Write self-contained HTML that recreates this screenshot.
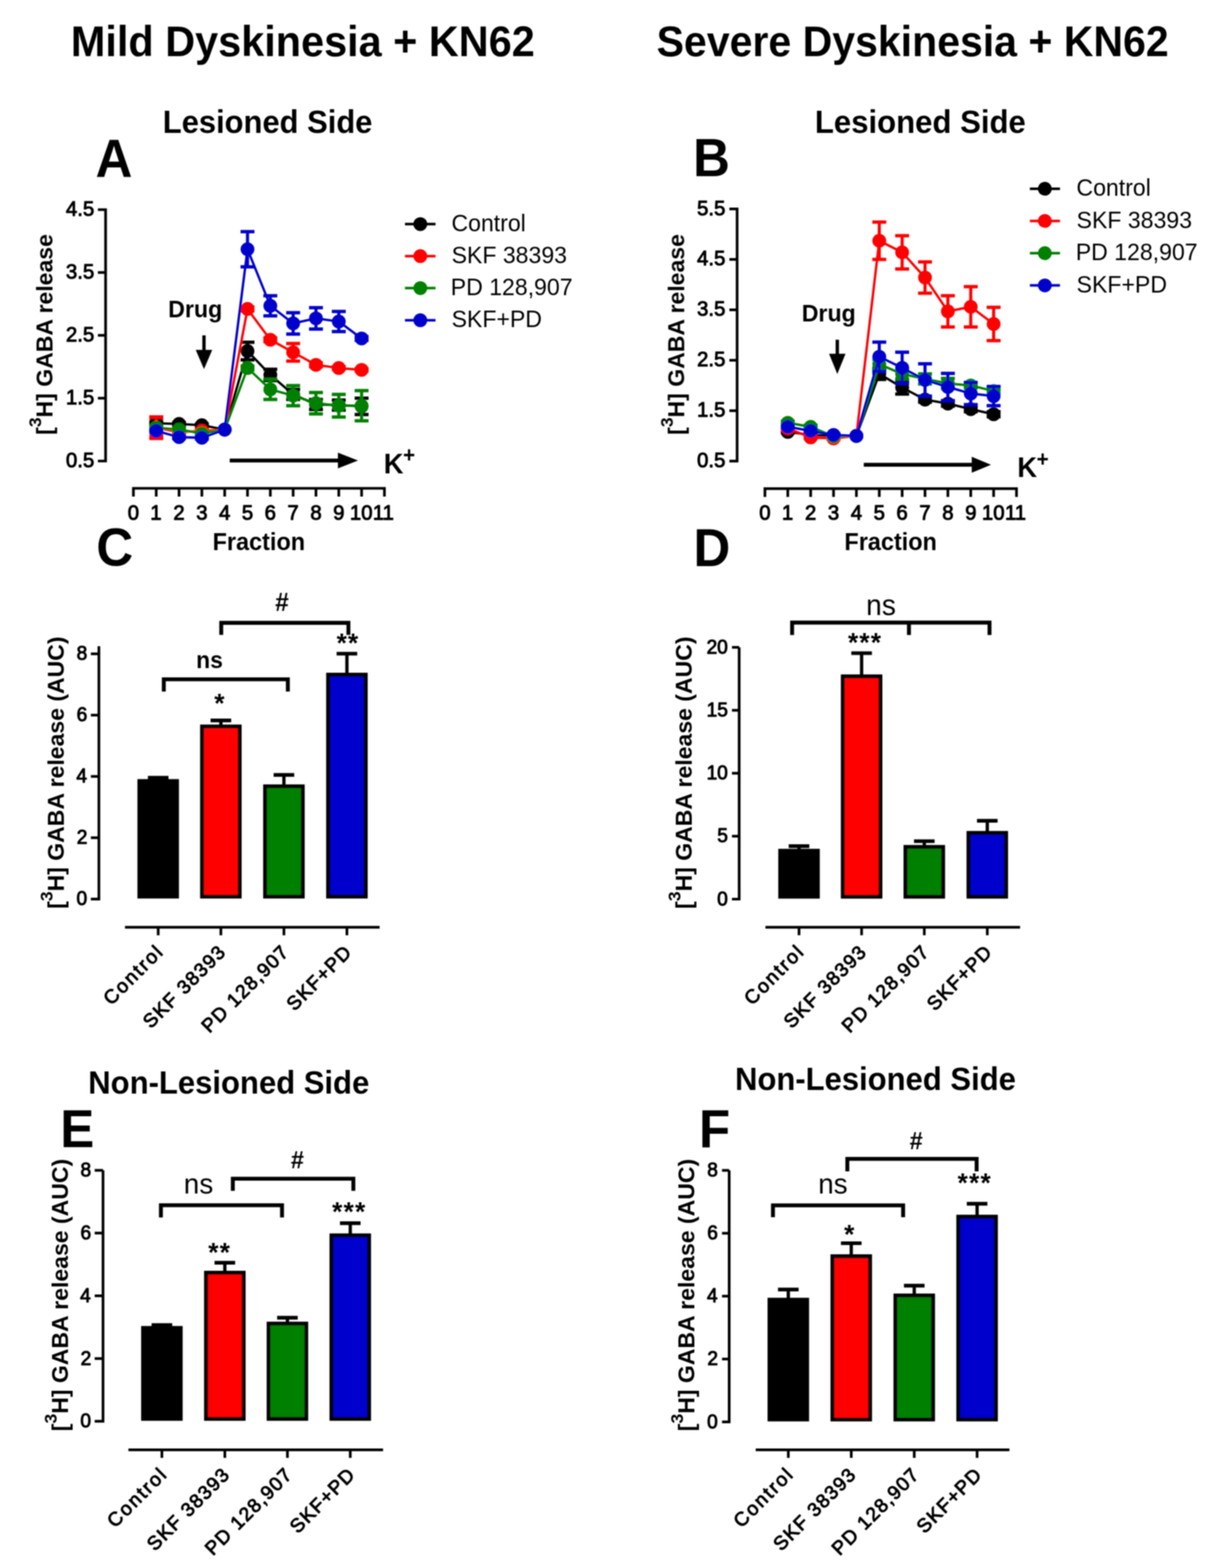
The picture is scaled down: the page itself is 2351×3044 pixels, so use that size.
<!DOCTYPE html>
<html><head><meta charset="utf-8"><title>Mild and Severe Dyskinesia + KN62</title>
<style>
html,body{margin:0;padding:0;background:#fff;}
body{width:2351px;height:3044px;overflow:hidden;}
svg{display:block;font-family:'Liberation Sans', Arial, Helvetica, sans-serif;}
</style></head><body>
<svg width="2351" height="3044" viewBox="0 0 2351 3044">
<defs><filter id="soft" x="0" y="0" width="100%" height="100%" filterUnits="userSpaceOnUse"><feGaussianBlur stdDeviation="0.8"/></filter></defs>
<rect width="100%" height="100%" fill="#fff"/>
<g filter="url(#soft)">
<text x="0" y="0" font-size="80.42" font-weight="700" text-anchor="start" fill="#000" transform="translate(137.62 109) scale(1 1.04)">Mild Dyskinesia + KN62</text>
<text x="0" y="0" font-size="79.68" font-weight="700" text-anchor="start" fill="#000" transform="translate(1274.7 109) scale(1 1.04)">Severe Dyskinesia + KN62</text>
<text x="0" y="0" font-size="60.05" font-weight="700" text-anchor="start" fill="#000" transform="translate(315.98 258) scale(1 1.04)">Lesioned Side</text>
<text x="0" y="0" font-size="60.42" font-weight="700" text-anchor="start" fill="#000" transform="translate(1581.96 258.2) scale(1 1.04)">Lesioned Side</text>
<text x="0" y="0" font-size="60.25" font-weight="700" text-anchor="start" fill="#000" transform="translate(171.37 2123) scale(1 1.04)">Non-Lesioned Side</text>
<text x="0" y="0" font-size="60.22" font-weight="700" text-anchor="start" fill="#000" transform="translate(1426.97 2115.5) scale(1 1.04)">Non-Lesioned Side</text>
<text x="0" y="0" font-size="99" font-weight="700" text-anchor="start" fill="#000" transform="translate(185.53 343) scale(1 1.04)">A</text>
<text x="0" y="0" font-size="99" font-weight="700" text-anchor="start" fill="#000" transform="translate(1345.38 342) scale(1 1.04)">B</text>
<text x="0" y="0" font-size="99" font-weight="700" text-anchor="start" fill="#000" transform="translate(186.94 1098) scale(1 1.04)">C</text>
<text x="0" y="0" font-size="99" font-weight="700" text-anchor="start" fill="#000" transform="translate(1346.28 1098.7) scale(1 1.04)">D</text>
<text x="0" y="0" font-size="99" font-weight="700" text-anchor="start" fill="#000" transform="translate(116.98 2226.7) scale(1 1.04)">E</text>
<text x="0" y="0" font-size="99" font-weight="700" text-anchor="start" fill="#000" transform="translate(1357.08 2226.7) scale(1 1.04)">F</text>
<path d="M190 407 H205 V895 H190" stroke="#000" stroke-width="5.2" fill="none" stroke-linejoin="miter" stroke-linecap="butt"/>
<line x1="190" y1="773" x2="205" y2="773" stroke="#000" stroke-width="5.2" stroke-linecap="butt"/>
<line x1="190" y1="651" x2="205" y2="651" stroke="#000" stroke-width="5.2" stroke-linecap="butt"/>
<line x1="190" y1="529" x2="205" y2="529" stroke="#000" stroke-width="5.2" stroke-linecap="butt"/>
<text x="0" y="0" font-size="39.5" font-weight="400" stroke="#000" stroke-width="1.6" stroke-linejoin="round" text-anchor="start" fill="#000" transform="translate(127.95 906.8) scale(1 1.04)">0.5</text>
<text x="0" y="0" font-size="39.5" font-weight="400" stroke="#000" stroke-width="1.6" stroke-linejoin="round" text-anchor="start" fill="#000" transform="translate(127.95 784.8) scale(1 1.04)">1.5</text>
<text x="0" y="0" font-size="39.5" font-weight="400" stroke="#000" stroke-width="1.6" stroke-linejoin="round" text-anchor="start" fill="#000" transform="translate(127.95 662.8) scale(1 1.04)">2.5</text>
<text x="0" y="0" font-size="39.5" font-weight="400" stroke="#000" stroke-width="1.6" stroke-linejoin="round" text-anchor="start" fill="#000" transform="translate(127.95 540.8) scale(1 1.04)">3.5</text>
<text x="0" y="0" font-size="39.5" font-weight="400" stroke="#000" stroke-width="1.6" stroke-linejoin="round" text-anchor="start" fill="#000" transform="translate(127.95 418.8) scale(1 1.04)">4.5</text>
<path d="M259 964 V948 H746.3 V964" stroke="#000" stroke-width="5.2" fill="none" stroke-linejoin="miter" stroke-linecap="butt"/>
<line x1="303.3" y1="948" x2="303.3" y2="964" stroke="#000" stroke-width="5.2" stroke-linecap="butt"/>
<line x1="347.6" y1="948" x2="347.6" y2="964" stroke="#000" stroke-width="5.2" stroke-linecap="butt"/>
<line x1="391.9" y1="948" x2="391.9" y2="964" stroke="#000" stroke-width="5.2" stroke-linecap="butt"/>
<line x1="436.2" y1="948" x2="436.2" y2="964" stroke="#000" stroke-width="5.2" stroke-linecap="butt"/>
<line x1="480.5" y1="948" x2="480.5" y2="964" stroke="#000" stroke-width="5.2" stroke-linecap="butt"/>
<line x1="524.8" y1="948" x2="524.8" y2="964" stroke="#000" stroke-width="5.2" stroke-linecap="butt"/>
<line x1="569.1" y1="948" x2="569.1" y2="964" stroke="#000" stroke-width="5.2" stroke-linecap="butt"/>
<line x1="613.4" y1="948" x2="613.4" y2="964" stroke="#000" stroke-width="5.2" stroke-linecap="butt"/>
<line x1="657.7" y1="948" x2="657.7" y2="964" stroke="#000" stroke-width="5.2" stroke-linecap="butt"/>
<line x1="702" y1="948" x2="702" y2="964" stroke="#000" stroke-width="5.2" stroke-linecap="butt"/>
<text x="0" y="0" font-size="39.5" font-weight="400" stroke="#000" stroke-width="1.6" stroke-linejoin="round" text-anchor="start" fill="#000" transform="translate(248.02 1008.7) scale(1 1.04)">0</text>
<text x="0" y="0" font-size="39.5" font-weight="400" stroke="#000" stroke-width="1.6" stroke-linejoin="round" text-anchor="start" fill="#000" transform="translate(291.78 1008.7) scale(1 1.04)">1</text>
<text x="0" y="0" font-size="39.5" font-weight="400" stroke="#000" stroke-width="1.6" stroke-linejoin="round" text-anchor="start" fill="#000" transform="translate(336.62 1008.7) scale(1 1.04)">2</text>
<text x="0" y="0" font-size="39.5" font-weight="400" stroke="#000" stroke-width="1.6" stroke-linejoin="round" text-anchor="start" fill="#000" transform="translate(381.03 1008.7) scale(1 1.04)">3</text>
<text x="0" y="0" font-size="39.5" font-weight="400" stroke="#000" stroke-width="1.6" stroke-linejoin="round" text-anchor="start" fill="#000" transform="translate(425.34 1008.7) scale(1 1.04)">4</text>
<text x="0" y="0" font-size="39.5" font-weight="400" stroke="#000" stroke-width="1.6" stroke-linejoin="round" text-anchor="start" fill="#000" transform="translate(469.55 1008.7) scale(1 1.04)">5</text>
<text x="0" y="0" font-size="39.5" font-weight="400" stroke="#000" stroke-width="1.6" stroke-linejoin="round" text-anchor="start" fill="#000" transform="translate(513.68 1008.7) scale(1 1.04)">6</text>
<text x="0" y="0" font-size="39.5" font-weight="400" stroke="#000" stroke-width="1.6" stroke-linejoin="round" text-anchor="start" fill="#000" transform="translate(558.1 1008.7) scale(1 1.04)">7</text>
<text x="0" y="0" font-size="39.5" font-weight="400" stroke="#000" stroke-width="1.6" stroke-linejoin="round" text-anchor="start" fill="#000" transform="translate(602.42 1008.7) scale(1 1.04)">8</text>
<text x="0" y="0" font-size="39.5" font-weight="400" stroke="#000" stroke-width="1.6" stroke-linejoin="round" text-anchor="start" fill="#000" transform="translate(646.73 1008.7) scale(1 1.04)">9</text>
<text x="0" y="0" font-size="39.5" font-weight="400" stroke="#000" stroke-width="1.6" stroke-linejoin="round" text-anchor="start" fill="#000" transform="translate(679.3 1008.7) scale(1 1.04)">10</text>
<text x="0" y="0" font-size="39.5" font-weight="400" stroke="#000" stroke-width="1.6" stroke-linejoin="round" text-anchor="start" fill="#000" transform="translate(723.79 1008.7) scale(1 1.04)">11</text>
<text x="0" y="0" font-size="45.5" font-weight="700" text-anchor="start" fill="#000" transform="translate(412.79 1068.1) scale(1 1.04)">Fraction</text>
<rect x="290.1" y="806.3" width="26.8" height="46.4" fill="#ff0000"/>
<polyline points="303.3,821.8 347.6,823.02 391.9,825.46 436.2,834 480.5,681.5 524.8,727.86 569.1,765.68 613.4,785.2 657.7,786.42 702,788.86" fill="none" stroke="#000000" stroke-width="4.6" stroke-linejoin="round"/>
<line x1="303.3" y1="819.36" x2="303.3" y2="824.24" stroke="#000000" stroke-width="6" stroke-linecap="butt"/>
<line x1="289.8" y1="819.36" x2="316.8" y2="819.36" stroke="#000000" stroke-width="6.5" stroke-linecap="butt"/>
<line x1="289.8" y1="824.24" x2="316.8" y2="824.24" stroke="#000000" stroke-width="6.5" stroke-linecap="butt"/>
<line x1="347.6" y1="820.58" x2="347.6" y2="825.46" stroke="#000000" stroke-width="6" stroke-linecap="butt"/>
<line x1="334.1" y1="820.58" x2="361.1" y2="820.58" stroke="#000000" stroke-width="6.5" stroke-linecap="butt"/>
<line x1="334.1" y1="825.46" x2="361.1" y2="825.46" stroke="#000000" stroke-width="6.5" stroke-linecap="butt"/>
<line x1="391.9" y1="823.02" x2="391.9" y2="827.9" stroke="#000000" stroke-width="6" stroke-linecap="butt"/>
<line x1="378.4" y1="823.02" x2="405.4" y2="823.02" stroke="#000000" stroke-width="6.5" stroke-linecap="butt"/>
<line x1="378.4" y1="827.9" x2="405.4" y2="827.9" stroke="#000000" stroke-width="6.5" stroke-linecap="butt"/>
<line x1="480.5" y1="664.42" x2="480.5" y2="698.58" stroke="#000000" stroke-width="6" stroke-linecap="butt"/>
<line x1="467" y1="664.42" x2="494" y2="664.42" stroke="#000000" stroke-width="6.5" stroke-linecap="butt"/>
<line x1="467" y1="698.58" x2="494" y2="698.58" stroke="#000000" stroke-width="6.5" stroke-linecap="butt"/>
<line x1="524.8" y1="716.88" x2="524.8" y2="738.84" stroke="#000000" stroke-width="6" stroke-linecap="butt"/>
<line x1="511.3" y1="716.88" x2="538.3" y2="716.88" stroke="#000000" stroke-width="6.5" stroke-linecap="butt"/>
<line x1="511.3" y1="738.84" x2="538.3" y2="738.84" stroke="#000000" stroke-width="6.5" stroke-linecap="butt"/>
<line x1="569.1" y1="755.92" x2="569.1" y2="775.44" stroke="#000000" stroke-width="6" stroke-linecap="butt"/>
<line x1="555.6" y1="755.92" x2="582.6" y2="755.92" stroke="#000000" stroke-width="6.5" stroke-linecap="butt"/>
<line x1="555.6" y1="775.44" x2="582.6" y2="775.44" stroke="#000000" stroke-width="6.5" stroke-linecap="butt"/>
<line x1="613.4" y1="775.44" x2="613.4" y2="794.96" stroke="#000000" stroke-width="6" stroke-linecap="butt"/>
<line x1="599.9" y1="775.44" x2="626.9" y2="775.44" stroke="#000000" stroke-width="6.5" stroke-linecap="butt"/>
<line x1="599.9" y1="794.96" x2="626.9" y2="794.96" stroke="#000000" stroke-width="6.5" stroke-linecap="butt"/>
<line x1="657.7" y1="776.66" x2="657.7" y2="796.18" stroke="#000000" stroke-width="6" stroke-linecap="butt"/>
<line x1="644.2" y1="776.66" x2="671.2" y2="776.66" stroke="#000000" stroke-width="6.5" stroke-linecap="butt"/>
<line x1="644.2" y1="796.18" x2="671.2" y2="796.18" stroke="#000000" stroke-width="6.5" stroke-linecap="butt"/>
<line x1="702" y1="773" x2="702" y2="804.72" stroke="#000000" stroke-width="6" stroke-linecap="butt"/>
<line x1="688.5" y1="773" x2="715.5" y2="773" stroke="#000000" stroke-width="6.5" stroke-linecap="butt"/>
<line x1="688.5" y1="804.72" x2="715.5" y2="804.72" stroke="#000000" stroke-width="6.5" stroke-linecap="butt"/>
<circle cx="303.3" cy="821.8" r="13.4" fill="#000000"/>
<circle cx="347.6" cy="823.02" r="13.4" fill="#000000"/>
<circle cx="391.9" cy="825.46" r="13.4" fill="#000000"/>
<circle cx="436.2" cy="834" r="13.4" fill="#000000"/>
<circle cx="480.5" cy="681.5" r="13.4" fill="#000000"/>
<circle cx="524.8" cy="727.86" r="13.4" fill="#000000"/>
<circle cx="569.1" cy="765.68" r="13.4" fill="#000000"/>
<circle cx="613.4" cy="785.2" r="13.4" fill="#000000"/>
<circle cx="657.7" cy="786.42" r="13.4" fill="#000000"/>
<circle cx="702" cy="788.86" r="13.4" fill="#000000"/>
<polyline points="303.3,830.34 347.6,838.88 391.9,836.44 436.2,834 480.5,599.76 524.8,659.54 569.1,683.94 613.4,708.34 657.7,714.44 702,718.1" fill="none" stroke="#ff0000" stroke-width="4.6" stroke-linejoin="round"/>
<line x1="303.3" y1="809.6" x2="303.3" y2="851.08" stroke="#ff0000" stroke-width="6" stroke-linecap="butt"/>
<line x1="289.8" y1="809.6" x2="316.8" y2="809.6" stroke="#ff0000" stroke-width="6.5" stroke-linecap="butt"/>
<line x1="289.8" y1="851.08" x2="316.8" y2="851.08" stroke="#ff0000" stroke-width="6.5" stroke-linecap="butt"/>
<line x1="347.6" y1="836.44" x2="347.6" y2="841.32" stroke="#ff0000" stroke-width="6" stroke-linecap="butt"/>
<line x1="334.1" y1="836.44" x2="361.1" y2="836.44" stroke="#ff0000" stroke-width="6.5" stroke-linecap="butt"/>
<line x1="334.1" y1="841.32" x2="361.1" y2="841.32" stroke="#ff0000" stroke-width="6.5" stroke-linecap="butt"/>
<line x1="391.9" y1="834" x2="391.9" y2="838.88" stroke="#ff0000" stroke-width="6" stroke-linecap="butt"/>
<line x1="378.4" y1="834" x2="405.4" y2="834" stroke="#ff0000" stroke-width="6.5" stroke-linecap="butt"/>
<line x1="378.4" y1="838.88" x2="405.4" y2="838.88" stroke="#ff0000" stroke-width="6.5" stroke-linecap="butt"/>
<line x1="480.5" y1="596.1" x2="480.5" y2="603.42" stroke="#ff0000" stroke-width="6" stroke-linecap="butt"/>
<line x1="467" y1="596.1" x2="494" y2="596.1" stroke="#ff0000" stroke-width="6.5" stroke-linecap="butt"/>
<line x1="467" y1="603.42" x2="494" y2="603.42" stroke="#ff0000" stroke-width="6.5" stroke-linecap="butt"/>
<line x1="524.8" y1="655.88" x2="524.8" y2="663.2" stroke="#ff0000" stroke-width="6" stroke-linecap="butt"/>
<line x1="511.3" y1="655.88" x2="538.3" y2="655.88" stroke="#ff0000" stroke-width="6.5" stroke-linecap="butt"/>
<line x1="511.3" y1="663.2" x2="538.3" y2="663.2" stroke="#ff0000" stroke-width="6.5" stroke-linecap="butt"/>
<line x1="569.1" y1="666.86" x2="569.1" y2="701.02" stroke="#ff0000" stroke-width="6" stroke-linecap="butt"/>
<line x1="555.6" y1="666.86" x2="582.6" y2="666.86" stroke="#ff0000" stroke-width="6.5" stroke-linecap="butt"/>
<line x1="555.6" y1="701.02" x2="582.6" y2="701.02" stroke="#ff0000" stroke-width="6.5" stroke-linecap="butt"/>
<line x1="613.4" y1="704.68" x2="613.4" y2="712" stroke="#ff0000" stroke-width="6" stroke-linecap="butt"/>
<line x1="599.9" y1="704.68" x2="626.9" y2="704.68" stroke="#ff0000" stroke-width="6.5" stroke-linecap="butt"/>
<line x1="599.9" y1="712" x2="626.9" y2="712" stroke="#ff0000" stroke-width="6.5" stroke-linecap="butt"/>
<line x1="657.7" y1="712" x2="657.7" y2="716.88" stroke="#ff0000" stroke-width="6" stroke-linecap="butt"/>
<line x1="644.2" y1="712" x2="671.2" y2="712" stroke="#ff0000" stroke-width="6.5" stroke-linecap="butt"/>
<line x1="644.2" y1="716.88" x2="671.2" y2="716.88" stroke="#ff0000" stroke-width="6.5" stroke-linecap="butt"/>
<line x1="702" y1="715.66" x2="702" y2="720.54" stroke="#ff0000" stroke-width="6" stroke-linecap="butt"/>
<line x1="688.5" y1="715.66" x2="715.5" y2="715.66" stroke="#ff0000" stroke-width="6.5" stroke-linecap="butt"/>
<line x1="688.5" y1="720.54" x2="715.5" y2="720.54" stroke="#ff0000" stroke-width="6.5" stroke-linecap="butt"/>
<circle cx="303.3" cy="830.34" r="13.4" fill="#ff0000"/>
<circle cx="347.6" cy="838.88" r="13.4" fill="#ff0000"/>
<circle cx="391.9" cy="836.44" r="13.4" fill="#ff0000"/>
<circle cx="436.2" cy="834" r="13.4" fill="#ff0000"/>
<circle cx="480.5" cy="599.76" r="13.4" fill="#ff0000"/>
<circle cx="524.8" cy="659.54" r="13.4" fill="#ff0000"/>
<circle cx="569.1" cy="683.94" r="13.4" fill="#ff0000"/>
<circle cx="613.4" cy="708.34" r="13.4" fill="#ff0000"/>
<circle cx="657.7" cy="714.44" r="13.4" fill="#ff0000"/>
<circle cx="702" cy="718.1" r="13.4" fill="#ff0000"/>
<polyline points="303.3,830.34 347.6,834 391.9,841.32 436.2,834 480.5,714.44 524.8,755.92 569.1,768.12 613.4,782.76 657.7,787.64 702,787.64" fill="none" stroke="#008000" stroke-width="4.6" stroke-linejoin="round"/>
<line x1="303.3" y1="826.68" x2="303.3" y2="834" stroke="#008000" stroke-width="6" stroke-linecap="butt"/>
<line x1="289.8" y1="826.68" x2="316.8" y2="826.68" stroke="#008000" stroke-width="6.5" stroke-linecap="butt"/>
<line x1="289.8" y1="834" x2="316.8" y2="834" stroke="#008000" stroke-width="6.5" stroke-linecap="butt"/>
<line x1="347.6" y1="831.56" x2="347.6" y2="836.44" stroke="#008000" stroke-width="6" stroke-linecap="butt"/>
<line x1="334.1" y1="831.56" x2="361.1" y2="831.56" stroke="#008000" stroke-width="6.5" stroke-linecap="butt"/>
<line x1="334.1" y1="836.44" x2="361.1" y2="836.44" stroke="#008000" stroke-width="6.5" stroke-linecap="butt"/>
<line x1="391.9" y1="838.88" x2="391.9" y2="843.76" stroke="#008000" stroke-width="6" stroke-linecap="butt"/>
<line x1="378.4" y1="838.88" x2="405.4" y2="838.88" stroke="#008000" stroke-width="6.5" stroke-linecap="butt"/>
<line x1="378.4" y1="843.76" x2="405.4" y2="843.76" stroke="#008000" stroke-width="6.5" stroke-linecap="butt"/>
<line x1="480.5" y1="710.78" x2="480.5" y2="718.1" stroke="#008000" stroke-width="6" stroke-linecap="butt"/>
<line x1="467" y1="710.78" x2="494" y2="710.78" stroke="#008000" stroke-width="6.5" stroke-linecap="butt"/>
<line x1="467" y1="718.1" x2="494" y2="718.1" stroke="#008000" stroke-width="6.5" stroke-linecap="butt"/>
<line x1="524.8" y1="736.4" x2="524.8" y2="775.44" stroke="#008000" stroke-width="6" stroke-linecap="butt"/>
<line x1="511.3" y1="736.4" x2="538.3" y2="736.4" stroke="#008000" stroke-width="6.5" stroke-linecap="butt"/>
<line x1="511.3" y1="775.44" x2="538.3" y2="775.44" stroke="#008000" stroke-width="6.5" stroke-linecap="butt"/>
<line x1="569.1" y1="748.6" x2="569.1" y2="787.64" stroke="#008000" stroke-width="6" stroke-linecap="butt"/>
<line x1="555.6" y1="748.6" x2="582.6" y2="748.6" stroke="#008000" stroke-width="6.5" stroke-linecap="butt"/>
<line x1="555.6" y1="787.64" x2="582.6" y2="787.64" stroke="#008000" stroke-width="6.5" stroke-linecap="butt"/>
<line x1="613.4" y1="762.02" x2="613.4" y2="803.5" stroke="#008000" stroke-width="6" stroke-linecap="butt"/>
<line x1="599.9" y1="762.02" x2="626.9" y2="762.02" stroke="#008000" stroke-width="6.5" stroke-linecap="butt"/>
<line x1="599.9" y1="803.5" x2="626.9" y2="803.5" stroke="#008000" stroke-width="6.5" stroke-linecap="butt"/>
<line x1="657.7" y1="765.68" x2="657.7" y2="809.6" stroke="#008000" stroke-width="6" stroke-linecap="butt"/>
<line x1="644.2" y1="765.68" x2="671.2" y2="765.68" stroke="#008000" stroke-width="6.5" stroke-linecap="butt"/>
<line x1="644.2" y1="809.6" x2="671.2" y2="809.6" stroke="#008000" stroke-width="6.5" stroke-linecap="butt"/>
<line x1="702" y1="758.36" x2="702" y2="816.92" stroke="#008000" stroke-width="6" stroke-linecap="butt"/>
<line x1="688.5" y1="758.36" x2="715.5" y2="758.36" stroke="#008000" stroke-width="6.5" stroke-linecap="butt"/>
<line x1="688.5" y1="816.92" x2="715.5" y2="816.92" stroke="#008000" stroke-width="6.5" stroke-linecap="butt"/>
<circle cx="303.3" cy="830.34" r="13.4" fill="#008000"/>
<circle cx="347.6" cy="834" r="13.4" fill="#008000"/>
<circle cx="391.9" cy="841.32" r="13.4" fill="#008000"/>
<circle cx="436.2" cy="834" r="13.4" fill="#008000"/>
<circle cx="480.5" cy="714.44" r="13.4" fill="#008000"/>
<circle cx="524.8" cy="755.92" r="13.4" fill="#008000"/>
<circle cx="569.1" cy="768.12" r="13.4" fill="#008000"/>
<circle cx="613.4" cy="782.76" r="13.4" fill="#008000"/>
<circle cx="657.7" cy="787.64" r="13.4" fill="#008000"/>
<circle cx="702" cy="787.64" r="13.4" fill="#008000"/>
<polyline points="303.3,836.44 347.6,848.64 391.9,849.86 436.2,834 480.5,483.86 524.8,593.66 569.1,627.82 613.4,618.06 657.7,624.16 702,657.1" fill="none" stroke="#0000cc" stroke-width="4.6" stroke-linejoin="round"/>
<line x1="303.3" y1="834" x2="303.3" y2="838.88" stroke="#0000cc" stroke-width="6" stroke-linecap="butt"/>
<line x1="289.8" y1="834" x2="316.8" y2="834" stroke="#0000cc" stroke-width="6.5" stroke-linecap="butt"/>
<line x1="289.8" y1="838.88" x2="316.8" y2="838.88" stroke="#0000cc" stroke-width="6.5" stroke-linecap="butt"/>
<line x1="347.6" y1="846.2" x2="347.6" y2="851.08" stroke="#0000cc" stroke-width="6" stroke-linecap="butt"/>
<line x1="334.1" y1="846.2" x2="361.1" y2="846.2" stroke="#0000cc" stroke-width="6.5" stroke-linecap="butt"/>
<line x1="334.1" y1="851.08" x2="361.1" y2="851.08" stroke="#0000cc" stroke-width="6.5" stroke-linecap="butt"/>
<line x1="391.9" y1="847.42" x2="391.9" y2="852.3" stroke="#0000cc" stroke-width="6" stroke-linecap="butt"/>
<line x1="378.4" y1="847.42" x2="405.4" y2="847.42" stroke="#0000cc" stroke-width="6.5" stroke-linecap="butt"/>
<line x1="378.4" y1="852.3" x2="405.4" y2="852.3" stroke="#0000cc" stroke-width="6.5" stroke-linecap="butt"/>
<line x1="480.5" y1="449.7" x2="480.5" y2="518.02" stroke="#0000cc" stroke-width="6" stroke-linecap="butt"/>
<line x1="467" y1="449.7" x2="494" y2="449.7" stroke="#0000cc" stroke-width="6.5" stroke-linecap="butt"/>
<line x1="467" y1="518.02" x2="494" y2="518.02" stroke="#0000cc" stroke-width="6.5" stroke-linecap="butt"/>
<line x1="524.8" y1="574.14" x2="524.8" y2="613.18" stroke="#0000cc" stroke-width="6" stroke-linecap="butt"/>
<line x1="511.3" y1="574.14" x2="538.3" y2="574.14" stroke="#0000cc" stroke-width="6.5" stroke-linecap="butt"/>
<line x1="511.3" y1="613.18" x2="538.3" y2="613.18" stroke="#0000cc" stroke-width="6.5" stroke-linecap="butt"/>
<line x1="569.1" y1="607.08" x2="569.1" y2="648.56" stroke="#0000cc" stroke-width="6" stroke-linecap="butt"/>
<line x1="555.6" y1="607.08" x2="582.6" y2="607.08" stroke="#0000cc" stroke-width="6.5" stroke-linecap="butt"/>
<line x1="555.6" y1="648.56" x2="582.6" y2="648.56" stroke="#0000cc" stroke-width="6.5" stroke-linecap="butt"/>
<line x1="613.4" y1="597.32" x2="613.4" y2="638.8" stroke="#0000cc" stroke-width="6" stroke-linecap="butt"/>
<line x1="599.9" y1="597.32" x2="626.9" y2="597.32" stroke="#0000cc" stroke-width="6.5" stroke-linecap="butt"/>
<line x1="599.9" y1="638.8" x2="626.9" y2="638.8" stroke="#0000cc" stroke-width="6.5" stroke-linecap="butt"/>
<line x1="657.7" y1="604.64" x2="657.7" y2="643.68" stroke="#0000cc" stroke-width="6" stroke-linecap="butt"/>
<line x1="644.2" y1="604.64" x2="671.2" y2="604.64" stroke="#0000cc" stroke-width="6.5" stroke-linecap="butt"/>
<line x1="644.2" y1="643.68" x2="671.2" y2="643.68" stroke="#0000cc" stroke-width="6.5" stroke-linecap="butt"/>
<line x1="702" y1="653.44" x2="702" y2="660.76" stroke="#0000cc" stroke-width="6" stroke-linecap="butt"/>
<line x1="688.5" y1="653.44" x2="715.5" y2="653.44" stroke="#0000cc" stroke-width="6.5" stroke-linecap="butt"/>
<line x1="688.5" y1="660.76" x2="715.5" y2="660.76" stroke="#0000cc" stroke-width="6.5" stroke-linecap="butt"/>
<circle cx="303.3" cy="836.44" r="13.4" fill="#0000cc"/>
<circle cx="347.6" cy="848.64" r="13.4" fill="#0000cc"/>
<circle cx="391.9" cy="849.86" r="13.4" fill="#0000cc"/>
<circle cx="436.2" cy="834" r="13.4" fill="#0000cc"/>
<circle cx="480.5" cy="483.86" r="13.4" fill="#0000cc"/>
<circle cx="524.8" cy="593.66" r="13.4" fill="#0000cc"/>
<circle cx="569.1" cy="627.82" r="13.4" fill="#0000cc"/>
<circle cx="613.4" cy="618.06" r="13.4" fill="#0000cc"/>
<circle cx="657.7" cy="624.16" r="13.4" fill="#0000cc"/>
<circle cx="702" cy="657.1" r="13.4" fill="#0000cc"/>
<line x1="786.2" y1="435.1" x2="845.5" y2="435.1" stroke="#000000" stroke-width="5" stroke-linecap="butt"/>
<circle cx="816" cy="435.1" r="13.4" fill="#000000"/>
<text x="0" y="0" font-size="44.8" font-weight="400" text-anchor="start" fill="#000" transform="translate(876.43 448.6) scale(1 1.04)">Control</text>
<line x1="786.2" y1="497.2" x2="845.5" y2="497.2" stroke="#ff0000" stroke-width="5" stroke-linecap="butt"/>
<circle cx="816" cy="497.2" r="13.4" fill="#ff0000"/>
<text x="0" y="0" font-size="44.8" font-weight="400" text-anchor="start" fill="#000" transform="translate(876.67 510.7) scale(1 1.04)">SKF 38393</text>
<line x1="786.2" y1="559.3" x2="845.5" y2="559.3" stroke="#008000" stroke-width="5" stroke-linecap="butt"/>
<circle cx="816" cy="559.3" r="13.4" fill="#008000"/>
<text x="0" y="0" font-size="44.8" font-weight="400" text-anchor="start" fill="#000" transform="translate(875.03 572.8) scale(1 1.04)">PD 128,907</text>
<line x1="786.2" y1="621.7" x2="845.5" y2="621.7" stroke="#0000cc" stroke-width="5" stroke-linecap="butt"/>
<circle cx="816" cy="621.7" r="13.4" fill="#0000cc"/>
<text x="0" y="0" font-size="44.8" font-weight="400" text-anchor="start" fill="#000" transform="translate(876.67 635.2) scale(1 1.04)">SKF+PD</text>
<text x="0" y="0" font-size="45" font-weight="700" text-anchor="start" fill="#000" transform="translate(326.49 615.8) scale(1 1.04)">Drug</text>
<line x1="396" y1="651" x2="396" y2="680.3" stroke="#000" stroke-width="6.5" stroke-linecap="butt"/>
<polygon points="380,679.3 412,679.3 396,716.4" fill="#000"/>
<line x1="446" y1="894" x2="657" y2="894" stroke="#000" stroke-width="7.5" stroke-linecap="butt"/>
<polygon points="656,878.7 656,909.3 695,894" fill="#000"/>
<text x="0" y="0" font-size="53" font-weight="700" text-anchor="start" fill="#000" transform="translate(745.05 918.8) scale(1 1.04)">K</text>
<text x="0" y="0" font-size="40" font-weight="700" text-anchor="start" fill="#000" transform="translate(782.39 897.2) scale(1 1.04)">+</text>
<text transform="translate(101.9 648) rotate(-90) scale(1 1)" font-size="44.7" font-weight="700" x="-196.25" y="0">[<tspan font-size="34" dy="-22.4">3</tspan><tspan dy="22.4">H] GABA release</tspan></text>
<path d="M1416 405.7 H1431 V895.2 H1416" stroke="#000" stroke-width="5.2" fill="none" stroke-linejoin="miter" stroke-linecap="butt"/>
<line x1="1416" y1="797.3" x2="1431" y2="797.3" stroke="#000" stroke-width="5.2" stroke-linecap="butt"/>
<line x1="1416" y1="699.4" x2="1431" y2="699.4" stroke="#000" stroke-width="5.2" stroke-linecap="butt"/>
<line x1="1416" y1="601.5" x2="1431" y2="601.5" stroke="#000" stroke-width="5.2" stroke-linecap="butt"/>
<line x1="1416" y1="503.6" x2="1431" y2="503.6" stroke="#000" stroke-width="5.2" stroke-linecap="butt"/>
<text x="0" y="0" font-size="39.5" font-weight="400" stroke="#000" stroke-width="1.6" stroke-linejoin="round" text-anchor="start" fill="#000" transform="translate(1353.35 907) scale(1 1.04)">0.5</text>
<text x="0" y="0" font-size="39.5" font-weight="400" stroke="#000" stroke-width="1.6" stroke-linejoin="round" text-anchor="start" fill="#000" transform="translate(1353.35 809.1) scale(1 1.04)">1.5</text>
<text x="0" y="0" font-size="39.5" font-weight="400" stroke="#000" stroke-width="1.6" stroke-linejoin="round" text-anchor="start" fill="#000" transform="translate(1353.35 711.2) scale(1 1.04)">2.5</text>
<text x="0" y="0" font-size="39.5" font-weight="400" stroke="#000" stroke-width="1.6" stroke-linejoin="round" text-anchor="start" fill="#000" transform="translate(1353.35 613.3) scale(1 1.04)">3.5</text>
<text x="0" y="0" font-size="39.5" font-weight="400" stroke="#000" stroke-width="1.6" stroke-linejoin="round" text-anchor="start" fill="#000" transform="translate(1353.35 515.4) scale(1 1.04)">4.5</text>
<text x="0" y="0" font-size="39.5" font-weight="400" stroke="#000" stroke-width="1.6" stroke-linejoin="round" text-anchor="start" fill="#000" transform="translate(1353.35 417.5) scale(1 1.04)">5.5</text>
<path d="M1485 964.7 V948.7 H1973.4 V964.7" stroke="#000" stroke-width="5.2" fill="none" stroke-linejoin="miter" stroke-linecap="butt"/>
<line x1="1529.4" y1="948.7" x2="1529.4" y2="964.7" stroke="#000" stroke-width="5.2" stroke-linecap="butt"/>
<line x1="1573.8" y1="948.7" x2="1573.8" y2="964.7" stroke="#000" stroke-width="5.2" stroke-linecap="butt"/>
<line x1="1618.2" y1="948.7" x2="1618.2" y2="964.7" stroke="#000" stroke-width="5.2" stroke-linecap="butt"/>
<line x1="1662.6" y1="948.7" x2="1662.6" y2="964.7" stroke="#000" stroke-width="5.2" stroke-linecap="butt"/>
<line x1="1707" y1="948.7" x2="1707" y2="964.7" stroke="#000" stroke-width="5.2" stroke-linecap="butt"/>
<line x1="1751.4" y1="948.7" x2="1751.4" y2="964.7" stroke="#000" stroke-width="5.2" stroke-linecap="butt"/>
<line x1="1795.8" y1="948.7" x2="1795.8" y2="964.7" stroke="#000" stroke-width="5.2" stroke-linecap="butt"/>
<line x1="1840.2" y1="948.7" x2="1840.2" y2="964.7" stroke="#000" stroke-width="5.2" stroke-linecap="butt"/>
<line x1="1884.6" y1="948.7" x2="1884.6" y2="964.7" stroke="#000" stroke-width="5.2" stroke-linecap="butt"/>
<line x1="1929" y1="948.7" x2="1929" y2="964.7" stroke="#000" stroke-width="5.2" stroke-linecap="butt"/>
<text x="0" y="0" font-size="39.5" font-weight="400" stroke="#000" stroke-width="1.6" stroke-linejoin="round" text-anchor="start" fill="#000" transform="translate(1474.02 1008.8) scale(1 1.04)">0</text>
<text x="0" y="0" font-size="39.5" font-weight="400" stroke="#000" stroke-width="1.6" stroke-linejoin="round" text-anchor="start" fill="#000" transform="translate(1517.88 1008.8) scale(1 1.04)">1</text>
<text x="0" y="0" font-size="39.5" font-weight="400" stroke="#000" stroke-width="1.6" stroke-linejoin="round" text-anchor="start" fill="#000" transform="translate(1562.82 1008.8) scale(1 1.04)">2</text>
<text x="0" y="0" font-size="39.5" font-weight="400" stroke="#000" stroke-width="1.6" stroke-linejoin="round" text-anchor="start" fill="#000" transform="translate(1607.33 1008.8) scale(1 1.04)">3</text>
<text x="0" y="0" font-size="39.5" font-weight="400" stroke="#000" stroke-width="1.6" stroke-linejoin="round" text-anchor="start" fill="#000" transform="translate(1651.74 1008.8) scale(1 1.04)">4</text>
<text x="0" y="0" font-size="39.5" font-weight="400" stroke="#000" stroke-width="1.6" stroke-linejoin="round" text-anchor="start" fill="#000" transform="translate(1696.05 1008.8) scale(1 1.04)">5</text>
<text x="0" y="0" font-size="39.5" font-weight="400" stroke="#000" stroke-width="1.6" stroke-linejoin="round" text-anchor="start" fill="#000" transform="translate(1740.28 1008.8) scale(1 1.04)">6</text>
<text x="0" y="0" font-size="39.5" font-weight="400" stroke="#000" stroke-width="1.6" stroke-linejoin="round" text-anchor="start" fill="#000" transform="translate(1784.8 1008.8) scale(1 1.04)">7</text>
<text x="0" y="0" font-size="39.5" font-weight="400" stroke="#000" stroke-width="1.6" stroke-linejoin="round" text-anchor="start" fill="#000" transform="translate(1829.22 1008.8) scale(1 1.04)">8</text>
<text x="0" y="0" font-size="39.5" font-weight="400" stroke="#000" stroke-width="1.6" stroke-linejoin="round" text-anchor="start" fill="#000" transform="translate(1873.63 1008.8) scale(1 1.04)">9</text>
<text x="0" y="0" font-size="39.5" font-weight="400" stroke="#000" stroke-width="1.6" stroke-linejoin="round" text-anchor="start" fill="#000" transform="translate(1906.3 1008.8) scale(1 1.04)">10</text>
<text x="0" y="0" font-size="39.5" font-weight="400" stroke="#000" stroke-width="1.6" stroke-linejoin="round" text-anchor="start" fill="#000" transform="translate(1950.89 1008.8) scale(1 1.04)">11</text>
<text x="0" y="0" font-size="45.5" font-weight="700" text-anchor="start" fill="#000" transform="translate(1639.34 1067.8) scale(1 1.04)">Fraction</text>
<polyline points="1529.4,838.42 1573.8,844.29 1618.2,846.25 1662.6,846.25 1707,725.83 1751.4,752.27 1795.8,775.76 1840.2,783.59 1884.6,794.36 1929,804.15" fill="none" stroke="#000000" stroke-width="4.6" stroke-linejoin="round"/>
<line x1="1529.4" y1="836.46" x2="1529.4" y2="840.38" stroke="#000000" stroke-width="6" stroke-linecap="butt"/>
<line x1="1515.9" y1="836.46" x2="1542.9" y2="836.46" stroke="#000000" stroke-width="6.5" stroke-linecap="butt"/>
<line x1="1515.9" y1="840.38" x2="1542.9" y2="840.38" stroke="#000000" stroke-width="6.5" stroke-linecap="butt"/>
<line x1="1573.8" y1="842.33" x2="1573.8" y2="846.25" stroke="#000000" stroke-width="6" stroke-linecap="butt"/>
<line x1="1560.3" y1="842.33" x2="1587.3" y2="842.33" stroke="#000000" stroke-width="6.5" stroke-linecap="butt"/>
<line x1="1560.3" y1="846.25" x2="1587.3" y2="846.25" stroke="#000000" stroke-width="6.5" stroke-linecap="butt"/>
<line x1="1618.2" y1="844.29" x2="1618.2" y2="848.21" stroke="#000000" stroke-width="6" stroke-linecap="butt"/>
<line x1="1604.7" y1="844.29" x2="1631.7" y2="844.29" stroke="#000000" stroke-width="6.5" stroke-linecap="butt"/>
<line x1="1604.7" y1="848.21" x2="1631.7" y2="848.21" stroke="#000000" stroke-width="6.5" stroke-linecap="butt"/>
<line x1="1707" y1="715.06" x2="1707" y2="736.6" stroke="#000000" stroke-width="6" stroke-linecap="butt"/>
<line x1="1693.5" y1="715.06" x2="1720.5" y2="715.06" stroke="#000000" stroke-width="6.5" stroke-linecap="butt"/>
<line x1="1693.5" y1="736.6" x2="1720.5" y2="736.6" stroke="#000000" stroke-width="6.5" stroke-linecap="butt"/>
<line x1="1751.4" y1="739.54" x2="1751.4" y2="764.99" stroke="#000000" stroke-width="6" stroke-linecap="butt"/>
<line x1="1737.9" y1="739.54" x2="1764.9" y2="739.54" stroke="#000000" stroke-width="6.5" stroke-linecap="butt"/>
<line x1="1737.9" y1="764.99" x2="1764.9" y2="764.99" stroke="#000000" stroke-width="6.5" stroke-linecap="butt"/>
<line x1="1795.8" y1="770.87" x2="1795.8" y2="780.66" stroke="#000000" stroke-width="6" stroke-linecap="butt"/>
<line x1="1782.3" y1="770.87" x2="1809.3" y2="770.87" stroke="#000000" stroke-width="6.5" stroke-linecap="butt"/>
<line x1="1782.3" y1="780.66" x2="1809.3" y2="780.66" stroke="#000000" stroke-width="6.5" stroke-linecap="butt"/>
<line x1="1840.2" y1="778.7" x2="1840.2" y2="788.49" stroke="#000000" stroke-width="6" stroke-linecap="butt"/>
<line x1="1826.7" y1="778.7" x2="1853.7" y2="778.7" stroke="#000000" stroke-width="6.5" stroke-linecap="butt"/>
<line x1="1826.7" y1="788.49" x2="1853.7" y2="788.49" stroke="#000000" stroke-width="6.5" stroke-linecap="butt"/>
<line x1="1884.6" y1="789.47" x2="1884.6" y2="799.26" stroke="#000000" stroke-width="6" stroke-linecap="butt"/>
<line x1="1871.1" y1="789.47" x2="1898.1" y2="789.47" stroke="#000000" stroke-width="6.5" stroke-linecap="butt"/>
<line x1="1871.1" y1="799.26" x2="1898.1" y2="799.26" stroke="#000000" stroke-width="6.5" stroke-linecap="butt"/>
<line x1="1929" y1="799.26" x2="1929" y2="809.05" stroke="#000000" stroke-width="6" stroke-linecap="butt"/>
<line x1="1915.5" y1="799.26" x2="1942.5" y2="799.26" stroke="#000000" stroke-width="6.5" stroke-linecap="butt"/>
<line x1="1915.5" y1="809.05" x2="1942.5" y2="809.05" stroke="#000000" stroke-width="6.5" stroke-linecap="butt"/>
<circle cx="1529.4" cy="838.42" r="13.4" fill="#000000"/>
<circle cx="1573.8" cy="844.29" r="13.4" fill="#000000"/>
<circle cx="1618.2" cy="846.25" r="13.4" fill="#000000"/>
<circle cx="1662.6" cy="846.25" r="13.4" fill="#000000"/>
<circle cx="1707" cy="725.83" r="13.4" fill="#000000"/>
<circle cx="1751.4" cy="752.27" r="13.4" fill="#000000"/>
<circle cx="1795.8" cy="775.76" r="13.4" fill="#000000"/>
<circle cx="1840.2" cy="783.59" r="13.4" fill="#000000"/>
<circle cx="1884.6" cy="794.36" r="13.4" fill="#000000"/>
<circle cx="1929" cy="804.15" r="13.4" fill="#000000"/>
<polyline points="1529.4,831.57 1573.8,849.19 1618.2,851.15 1662.6,846.25 1707,467.38 1751.4,489.89 1795.8,538.84 1840.2,604.44 1884.6,595.63 1929,628.91" fill="none" stroke="#ff0000" stroke-width="4.6" stroke-linejoin="round"/>
<line x1="1529.4" y1="829.61" x2="1529.4" y2="833.52" stroke="#ff0000" stroke-width="6" stroke-linecap="butt"/>
<line x1="1515.9" y1="829.61" x2="1542.9" y2="829.61" stroke="#ff0000" stroke-width="6.5" stroke-linecap="butt"/>
<line x1="1515.9" y1="833.52" x2="1542.9" y2="833.52" stroke="#ff0000" stroke-width="6.5" stroke-linecap="butt"/>
<line x1="1573.8" y1="847.23" x2="1573.8" y2="851.15" stroke="#ff0000" stroke-width="6" stroke-linecap="butt"/>
<line x1="1560.3" y1="847.23" x2="1587.3" y2="847.23" stroke="#ff0000" stroke-width="6.5" stroke-linecap="butt"/>
<line x1="1560.3" y1="851.15" x2="1587.3" y2="851.15" stroke="#ff0000" stroke-width="6.5" stroke-linecap="butt"/>
<line x1="1618.2" y1="849.19" x2="1618.2" y2="853.1" stroke="#ff0000" stroke-width="6" stroke-linecap="butt"/>
<line x1="1604.7" y1="849.19" x2="1631.7" y2="849.19" stroke="#ff0000" stroke-width="6.5" stroke-linecap="butt"/>
<line x1="1604.7" y1="853.1" x2="1631.7" y2="853.1" stroke="#ff0000" stroke-width="6.5" stroke-linecap="butt"/>
<line x1="1707" y1="431.15" x2="1707" y2="503.6" stroke="#ff0000" stroke-width="6" stroke-linecap="butt"/>
<line x1="1693.5" y1="431.15" x2="1720.5" y2="431.15" stroke="#ff0000" stroke-width="6.5" stroke-linecap="butt"/>
<line x1="1693.5" y1="503.6" x2="1720.5" y2="503.6" stroke="#ff0000" stroke-width="6.5" stroke-linecap="butt"/>
<line x1="1751.4" y1="457.59" x2="1751.4" y2="522.2" stroke="#ff0000" stroke-width="6" stroke-linecap="butt"/>
<line x1="1737.9" y1="457.59" x2="1764.9" y2="457.59" stroke="#ff0000" stroke-width="6.5" stroke-linecap="butt"/>
<line x1="1737.9" y1="522.2" x2="1764.9" y2="522.2" stroke="#ff0000" stroke-width="6.5" stroke-linecap="butt"/>
<line x1="1795.8" y1="508.5" x2="1795.8" y2="569.19" stroke="#ff0000" stroke-width="6" stroke-linecap="butt"/>
<line x1="1782.3" y1="508.5" x2="1809.3" y2="508.5" stroke="#ff0000" stroke-width="6.5" stroke-linecap="butt"/>
<line x1="1782.3" y1="569.19" x2="1809.3" y2="569.19" stroke="#ff0000" stroke-width="6.5" stroke-linecap="butt"/>
<line x1="1840.2" y1="574.09" x2="1840.2" y2="634.79" stroke="#ff0000" stroke-width="6" stroke-linecap="butt"/>
<line x1="1826.7" y1="574.09" x2="1853.7" y2="574.09" stroke="#ff0000" stroke-width="6.5" stroke-linecap="butt"/>
<line x1="1826.7" y1="634.79" x2="1853.7" y2="634.79" stroke="#ff0000" stroke-width="6.5" stroke-linecap="butt"/>
<line x1="1884.6" y1="556.47" x2="1884.6" y2="634.79" stroke="#ff0000" stroke-width="6" stroke-linecap="butt"/>
<line x1="1871.1" y1="556.47" x2="1898.1" y2="556.47" stroke="#ff0000" stroke-width="6.5" stroke-linecap="butt"/>
<line x1="1871.1" y1="634.79" x2="1898.1" y2="634.79" stroke="#ff0000" stroke-width="6.5" stroke-linecap="butt"/>
<line x1="1929" y1="596.61" x2="1929" y2="661.22" stroke="#ff0000" stroke-width="6" stroke-linecap="butt"/>
<line x1="1915.5" y1="596.61" x2="1942.5" y2="596.61" stroke="#ff0000" stroke-width="6.5" stroke-linecap="butt"/>
<line x1="1915.5" y1="661.22" x2="1942.5" y2="661.22" stroke="#ff0000" stroke-width="6.5" stroke-linecap="butt"/>
<circle cx="1529.4" cy="831.57" r="13.4" fill="#ff0000"/>
<circle cx="1573.8" cy="849.19" r="13.4" fill="#ff0000"/>
<circle cx="1618.2" cy="851.15" r="13.4" fill="#ff0000"/>
<circle cx="1662.6" cy="846.25" r="13.4" fill="#ff0000"/>
<circle cx="1707" cy="467.38" r="13.4" fill="#ff0000"/>
<circle cx="1751.4" cy="489.89" r="13.4" fill="#ff0000"/>
<circle cx="1795.8" cy="538.84" r="13.4" fill="#ff0000"/>
<circle cx="1840.2" cy="604.44" r="13.4" fill="#ff0000"/>
<circle cx="1884.6" cy="595.63" r="13.4" fill="#ff0000"/>
<circle cx="1929" cy="628.91" r="13.4" fill="#ff0000"/>
<polyline points="1529.4,820.8 1573.8,828.63 1618.2,847.23 1662.6,846.25 1707,707.23 1751.4,725.83 1795.8,735.62 1840.2,744.43 1884.6,748.35 1929,759.12" fill="none" stroke="#008000" stroke-width="4.6" stroke-linejoin="round"/>
<line x1="1529.4" y1="817.86" x2="1529.4" y2="823.73" stroke="#008000" stroke-width="6" stroke-linecap="butt"/>
<line x1="1515.9" y1="817.86" x2="1542.9" y2="817.86" stroke="#008000" stroke-width="6.5" stroke-linecap="butt"/>
<line x1="1515.9" y1="823.73" x2="1542.9" y2="823.73" stroke="#008000" stroke-width="6.5" stroke-linecap="butt"/>
<line x1="1573.8" y1="825.69" x2="1573.8" y2="831.57" stroke="#008000" stroke-width="6" stroke-linecap="butt"/>
<line x1="1560.3" y1="825.69" x2="1587.3" y2="825.69" stroke="#008000" stroke-width="6.5" stroke-linecap="butt"/>
<line x1="1560.3" y1="831.57" x2="1587.3" y2="831.57" stroke="#008000" stroke-width="6.5" stroke-linecap="butt"/>
<line x1="1618.2" y1="845.27" x2="1618.2" y2="849.19" stroke="#008000" stroke-width="6" stroke-linecap="butt"/>
<line x1="1604.7" y1="845.27" x2="1631.7" y2="845.27" stroke="#008000" stroke-width="6.5" stroke-linecap="butt"/>
<line x1="1604.7" y1="849.19" x2="1631.7" y2="849.19" stroke="#008000" stroke-width="6.5" stroke-linecap="butt"/>
<line x1="1707" y1="697.44" x2="1707" y2="717.02" stroke="#008000" stroke-width="6" stroke-linecap="butt"/>
<line x1="1693.5" y1="697.44" x2="1720.5" y2="697.44" stroke="#008000" stroke-width="6.5" stroke-linecap="butt"/>
<line x1="1693.5" y1="717.02" x2="1720.5" y2="717.02" stroke="#008000" stroke-width="6.5" stroke-linecap="butt"/>
<line x1="1751.4" y1="716.04" x2="1751.4" y2="735.62" stroke="#008000" stroke-width="6" stroke-linecap="butt"/>
<line x1="1737.9" y1="716.04" x2="1764.9" y2="716.04" stroke="#008000" stroke-width="6.5" stroke-linecap="butt"/>
<line x1="1737.9" y1="735.62" x2="1764.9" y2="735.62" stroke="#008000" stroke-width="6.5" stroke-linecap="butt"/>
<line x1="1795.8" y1="725.83" x2="1795.8" y2="745.41" stroke="#008000" stroke-width="6" stroke-linecap="butt"/>
<line x1="1782.3" y1="725.83" x2="1809.3" y2="725.83" stroke="#008000" stroke-width="6.5" stroke-linecap="butt"/>
<line x1="1782.3" y1="745.41" x2="1809.3" y2="745.41" stroke="#008000" stroke-width="6.5" stroke-linecap="butt"/>
<line x1="1840.2" y1="734.64" x2="1840.2" y2="754.22" stroke="#008000" stroke-width="6" stroke-linecap="butt"/>
<line x1="1826.7" y1="734.64" x2="1853.7" y2="734.64" stroke="#008000" stroke-width="6.5" stroke-linecap="butt"/>
<line x1="1826.7" y1="754.22" x2="1853.7" y2="754.22" stroke="#008000" stroke-width="6.5" stroke-linecap="butt"/>
<line x1="1884.6" y1="743.46" x2="1884.6" y2="753.25" stroke="#008000" stroke-width="6" stroke-linecap="butt"/>
<line x1="1871.1" y1="743.46" x2="1898.1" y2="743.46" stroke="#008000" stroke-width="6.5" stroke-linecap="butt"/>
<line x1="1871.1" y1="753.25" x2="1898.1" y2="753.25" stroke="#008000" stroke-width="6.5" stroke-linecap="butt"/>
<line x1="1929" y1="754.22" x2="1929" y2="764.01" stroke="#008000" stroke-width="6" stroke-linecap="butt"/>
<line x1="1915.5" y1="754.22" x2="1942.5" y2="754.22" stroke="#008000" stroke-width="6.5" stroke-linecap="butt"/>
<line x1="1915.5" y1="764.01" x2="1942.5" y2="764.01" stroke="#008000" stroke-width="6.5" stroke-linecap="butt"/>
<circle cx="1529.4" cy="820.8" r="13.4" fill="#008000"/>
<circle cx="1573.8" cy="828.63" r="13.4" fill="#008000"/>
<circle cx="1618.2" cy="847.23" r="13.4" fill="#008000"/>
<circle cx="1662.6" cy="846.25" r="13.4" fill="#008000"/>
<circle cx="1707" cy="707.23" r="13.4" fill="#008000"/>
<circle cx="1751.4" cy="725.83" r="13.4" fill="#008000"/>
<circle cx="1795.8" cy="735.62" r="13.4" fill="#008000"/>
<circle cx="1840.2" cy="744.43" r="13.4" fill="#008000"/>
<circle cx="1884.6" cy="748.35" r="13.4" fill="#008000"/>
<circle cx="1929" cy="759.12" r="13.4" fill="#008000"/>
<polyline points="1529.4,828.63 1573.8,836.46 1618.2,844.29 1662.6,846.25 1707,692.55 1751.4,714.09 1795.8,737.58 1840.2,751.29 1884.6,764.01 1929,768.91" fill="none" stroke="#0000cc" stroke-width="4.6" stroke-linejoin="round"/>
<line x1="1529.4" y1="826.67" x2="1529.4" y2="830.59" stroke="#0000cc" stroke-width="6" stroke-linecap="butt"/>
<line x1="1515.9" y1="826.67" x2="1542.9" y2="826.67" stroke="#0000cc" stroke-width="6.5" stroke-linecap="butt"/>
<line x1="1515.9" y1="830.59" x2="1542.9" y2="830.59" stroke="#0000cc" stroke-width="6.5" stroke-linecap="butt"/>
<line x1="1573.8" y1="834.5" x2="1573.8" y2="838.42" stroke="#0000cc" stroke-width="6" stroke-linecap="butt"/>
<line x1="1560.3" y1="834.5" x2="1587.3" y2="834.5" stroke="#0000cc" stroke-width="6.5" stroke-linecap="butt"/>
<line x1="1560.3" y1="838.42" x2="1587.3" y2="838.42" stroke="#0000cc" stroke-width="6.5" stroke-linecap="butt"/>
<line x1="1618.2" y1="842.33" x2="1618.2" y2="846.25" stroke="#0000cc" stroke-width="6" stroke-linecap="butt"/>
<line x1="1604.7" y1="842.33" x2="1631.7" y2="842.33" stroke="#0000cc" stroke-width="6.5" stroke-linecap="butt"/>
<line x1="1604.7" y1="846.25" x2="1631.7" y2="846.25" stroke="#0000cc" stroke-width="6.5" stroke-linecap="butt"/>
<line x1="1707" y1="664.16" x2="1707" y2="720.94" stroke="#0000cc" stroke-width="6" stroke-linecap="butt"/>
<line x1="1693.5" y1="664.16" x2="1720.5" y2="664.16" stroke="#0000cc" stroke-width="6.5" stroke-linecap="butt"/>
<line x1="1693.5" y1="720.94" x2="1720.5" y2="720.94" stroke="#0000cc" stroke-width="6.5" stroke-linecap="butt"/>
<line x1="1751.4" y1="683.74" x2="1751.4" y2="744.43" stroke="#0000cc" stroke-width="6" stroke-linecap="butt"/>
<line x1="1737.9" y1="683.74" x2="1764.9" y2="683.74" stroke="#0000cc" stroke-width="6.5" stroke-linecap="butt"/>
<line x1="1737.9" y1="744.43" x2="1764.9" y2="744.43" stroke="#0000cc" stroke-width="6.5" stroke-linecap="butt"/>
<line x1="1795.8" y1="706.25" x2="1795.8" y2="768.91" stroke="#0000cc" stroke-width="6" stroke-linecap="butt"/>
<line x1="1782.3" y1="706.25" x2="1809.3" y2="706.25" stroke="#0000cc" stroke-width="6.5" stroke-linecap="butt"/>
<line x1="1782.3" y1="768.91" x2="1809.3" y2="768.91" stroke="#0000cc" stroke-width="6.5" stroke-linecap="butt"/>
<line x1="1840.2" y1="724.85" x2="1840.2" y2="777.72" stroke="#0000cc" stroke-width="6" stroke-linecap="butt"/>
<line x1="1826.7" y1="724.85" x2="1853.7" y2="724.85" stroke="#0000cc" stroke-width="6.5" stroke-linecap="butt"/>
<line x1="1826.7" y1="777.72" x2="1853.7" y2="777.72" stroke="#0000cc" stroke-width="6.5" stroke-linecap="butt"/>
<line x1="1884.6" y1="742.48" x2="1884.6" y2="785.55" stroke="#0000cc" stroke-width="6" stroke-linecap="butt"/>
<line x1="1871.1" y1="742.48" x2="1898.1" y2="742.48" stroke="#0000cc" stroke-width="6.5" stroke-linecap="butt"/>
<line x1="1871.1" y1="785.55" x2="1898.1" y2="785.55" stroke="#0000cc" stroke-width="6.5" stroke-linecap="butt"/>
<line x1="1929" y1="750.31" x2="1929" y2="787.51" stroke="#0000cc" stroke-width="6" stroke-linecap="butt"/>
<line x1="1915.5" y1="750.31" x2="1942.5" y2="750.31" stroke="#0000cc" stroke-width="6.5" stroke-linecap="butt"/>
<line x1="1915.5" y1="787.51" x2="1942.5" y2="787.51" stroke="#0000cc" stroke-width="6.5" stroke-linecap="butt"/>
<circle cx="1529.4" cy="828.63" r="13.4" fill="#0000cc"/>
<circle cx="1573.8" cy="836.46" r="13.4" fill="#0000cc"/>
<circle cx="1618.2" cy="844.29" r="13.4" fill="#0000cc"/>
<circle cx="1662.6" cy="846.25" r="13.4" fill="#0000cc"/>
<circle cx="1707" cy="692.55" r="13.4" fill="#0000cc"/>
<circle cx="1751.4" cy="714.09" r="13.4" fill="#0000cc"/>
<circle cx="1795.8" cy="737.58" r="13.4" fill="#0000cc"/>
<circle cx="1840.2" cy="751.29" r="13.4" fill="#0000cc"/>
<circle cx="1884.6" cy="764.01" r="13.4" fill="#0000cc"/>
<circle cx="1929" cy="768.91" r="13.4" fill="#0000cc"/>
<line x1="1999.4" y1="366.4" x2="2057.8" y2="366.4" stroke="#000000" stroke-width="5" stroke-linecap="butt"/>
<circle cx="2028.4" cy="366.4" r="13.4" fill="#000000"/>
<text x="0" y="0" font-size="44.8" font-weight="400" text-anchor="start" fill="#000" transform="translate(2089.82 380.3) scale(1 1.04)">Control</text>
<line x1="1999.4" y1="428.9" x2="2057.8" y2="428.9" stroke="#ff0000" stroke-width="5" stroke-linecap="butt"/>
<circle cx="2028.4" cy="428.9" r="13.4" fill="#ff0000"/>
<text x="0" y="0" font-size="44.8" font-weight="400" text-anchor="start" fill="#000" transform="translate(2090.07 442.8) scale(1 1.04)">SKF 38393</text>
<line x1="1999.4" y1="491.5" x2="2057.8" y2="491.5" stroke="#008000" stroke-width="5" stroke-linecap="butt"/>
<circle cx="2028.4" cy="491.5" r="13.4" fill="#008000"/>
<text x="0" y="0" font-size="44.8" font-weight="400" text-anchor="start" fill="#000" transform="translate(2088.42 505.4) scale(1 1.04)">PD 128,907</text>
<line x1="1999.4" y1="554.1" x2="2057.8" y2="554.1" stroke="#0000cc" stroke-width="5" stroke-linecap="butt"/>
<circle cx="2028.4" cy="554.1" r="13.4" fill="#0000cc"/>
<text x="0" y="0" font-size="44.8" font-weight="400" text-anchor="start" fill="#000" transform="translate(2090.07 568) scale(1 1.04)">SKF+PD</text>
<text x="0" y="0" font-size="45" font-weight="700" text-anchor="start" fill="#000" transform="translate(1556.39 623.9) scale(1 1.04)">Drug</text>
<line x1="1625.5" y1="659.5" x2="1625.5" y2="687.7" stroke="#000" stroke-width="6.5" stroke-linecap="butt"/>
<polygon points="1609.5,686.7 1641.5,686.7 1625.5,725.9" fill="#000"/>
<line x1="1676.9" y1="902.3" x2="1887.5" y2="902.3" stroke="#000" stroke-width="7.5" stroke-linecap="butt"/>
<polygon points="1886.5,886.8 1886.5,917.8 1923.9,902.3" fill="#000"/>
<text x="0" y="0" font-size="53" font-weight="700" text-anchor="start" fill="#000" transform="translate(1975.05 926.2) scale(1 1.04)">K</text>
<text x="0" y="0" font-size="40" font-weight="700" text-anchor="start" fill="#000" transform="translate(2012.39 904.6) scale(1 1.04)">+</text>
<text transform="translate(1328.3 648) rotate(-90) scale(1 1)" font-size="44.7" font-weight="700" x="-196.25" y="0">[<tspan font-size="34" dy="-22.4">3</tspan><tspan dy="22.4">H] GABA release</tspan></text>
<path d="M192 1254.6 V1745.3 H176.4" stroke="#000" stroke-width="5.2" fill="none" stroke-linejoin="miter" stroke-linecap="butt"/>
<line x1="176.4" y1="1626.3" x2="192" y2="1626.3" stroke="#000" stroke-width="5.2" stroke-linecap="butt"/>
<line x1="176.4" y1="1507.3" x2="192" y2="1507.3" stroke="#000" stroke-width="5.2" stroke-linecap="butt"/>
<line x1="176.4" y1="1388.3" x2="192" y2="1388.3" stroke="#000" stroke-width="5.2" stroke-linecap="butt"/>
<line x1="176.4" y1="1269.3" x2="192" y2="1269.3" stroke="#000" stroke-width="5.2" stroke-linecap="butt"/>
<text x="0" y="0" font-size="37.2" font-weight="400" stroke="#000" stroke-width="1.6" stroke-linejoin="round" text-anchor="start" fill="#000" transform="translate(148.56 1757.4) scale(1 1.04)">0</text>
<text x="0" y="0" font-size="37.2" font-weight="400" stroke="#000" stroke-width="1.6" stroke-linejoin="round" text-anchor="start" fill="#000" transform="translate(148.98 1638.4) scale(1 1.04)">2</text>
<text x="0" y="0" font-size="37.2" font-weight="400" stroke="#000" stroke-width="1.6" stroke-linejoin="round" text-anchor="start" fill="#000" transform="translate(148.2 1519.4) scale(1 1.04)">4</text>
<text x="0" y="0" font-size="37.2" font-weight="400" stroke="#000" stroke-width="1.6" stroke-linejoin="round" text-anchor="start" fill="#000" transform="translate(148.75 1400.4) scale(1 1.04)">6</text>
<text x="0" y="0" font-size="37.2" font-weight="400" stroke="#000" stroke-width="1.6" stroke-linejoin="round" text-anchor="start" fill="#000" transform="translate(148.73 1281.4) scale(1 1.04)">8</text>
<line x1="242.6" y1="1800.2" x2="737" y2="1800.2" stroke="#000" stroke-width="5.2" stroke-linecap="butt"/>
<line x1="307.1" y1="1800.2" x2="307.1" y2="1815.7" stroke="#000" stroke-width="5.2" stroke-linecap="butt"/>
<line x1="428.8" y1="1800.2" x2="428.8" y2="1815.7" stroke="#000" stroke-width="5.2" stroke-linecap="butt"/>
<line x1="551.2" y1="1800.2" x2="551.2" y2="1815.7" stroke="#000" stroke-width="5.2" stroke-linecap="butt"/>
<line x1="673.5" y1="1800.2" x2="673.5" y2="1815.7" stroke="#000" stroke-width="5.2" stroke-linecap="butt"/>
<line x1="307.1" y1="1516.5" x2="307.1" y2="1509.8" stroke="#000" stroke-width="6.4" stroke-linecap="butt"/>
<line x1="287.1" y1="1509.8" x2="327.1" y2="1509.8" stroke="#000" stroke-width="7.2" stroke-linecap="butt"/>
<rect x="270.5" y="1516.2" width="73.2" height="224.4" fill="#000000" stroke="#000" stroke-width="7.4"/>
<line x1="428.8" y1="1410.6" x2="428.8" y2="1398.7" stroke="#000" stroke-width="6.4" stroke-linecap="butt"/>
<line x1="408.8" y1="1398.7" x2="448.8" y2="1398.7" stroke="#000" stroke-width="7.2" stroke-linecap="butt"/>
<rect x="392.2" y="1410.3" width="73.2" height="330.3" fill="#ff0000" stroke="#000" stroke-width="7.4"/>
<line x1="551.2" y1="1526.8" x2="551.2" y2="1504.3" stroke="#000" stroke-width="6.4" stroke-linecap="butt"/>
<line x1="531.2" y1="1504.3" x2="571.2" y2="1504.3" stroke="#000" stroke-width="7.2" stroke-linecap="butt"/>
<rect x="514.6" y="1526.5" width="73.2" height="214.1" fill="#008000" stroke="#000" stroke-width="7.4"/>
<line x1="673.5" y1="1310" x2="673.5" y2="1269" stroke="#000" stroke-width="6.4" stroke-linecap="butt"/>
<line x1="653.5" y1="1269" x2="693.5" y2="1269" stroke="#000" stroke-width="7.2" stroke-linecap="butt"/>
<rect x="636.9" y="1309.7" width="73.2" height="430.9" fill="#0000cc" stroke="#000" stroke-width="7.4"/>
<text transform="translate(317.6 1851.5) rotate(-45)" x="-143.69" font-size="37.5" font-weight="400" stroke="#000" stroke-width="1.6" stroke-linejoin="round" letter-spacing="3.8">Control</text>
<text transform="translate(439.3 1851.5) rotate(-45)" x="-207.23" font-size="37.5" font-weight="400" stroke="#000" stroke-width="1.6" stroke-linejoin="round" letter-spacing="2.45">SKF 38393</text>
<text transform="translate(561.7 1851.5) rotate(-45)" x="-219.67" font-size="37.5" font-weight="400" stroke="#000" stroke-width="1.6" stroke-linejoin="round" letter-spacing="2.4">PD 128,907</text>
<text transform="translate(684 1851.5) rotate(-45)" x="-159.17" font-size="37.5" font-weight="400" stroke="#000" stroke-width="1.6" stroke-linejoin="round" letter-spacing="2.45">SKF+PD</text>
<text transform="translate(124 1498.9) rotate(-90) scale(1 1)" font-size="44.7" font-weight="700" x="-265.42" y="0">[<tspan font-size="34" dy="-22.4">3</tspan><tspan dy="22.4">H] GABA release (AUC)</tspan></text>
<path d="M429.5 1232.5 V1209.1 H676.4 V1232.5" stroke="#000" stroke-width="7.6" fill="none" stroke-linejoin="miter" stroke-linecap="butt"/>
<path d="M318 1342.5 V1318.7 H558.8 V1342.5" stroke="#000" stroke-width="7.6" fill="none" stroke-linejoin="miter" stroke-linecap="butt"/>
<text x="0" y="0" font-size="47.5" font-weight="700" text-anchor="start" fill="#000" transform="translate(534.37 1185.6) scale(1 1.04)">#</text>
<text x="0" y="0" font-size="44.5" font-weight="700" text-anchor="start" fill="#000" transform="translate(380.78 1297) scale(1 1.04)">ns</text>
<text x="416.03" y="1382.61" font-size="51" font-weight="700" letter-spacing="2.35">*</text>
<text x="653.43" y="1266.31" font-size="51" font-weight="700" letter-spacing="2.35">**</text>
<path d="M1435 1256.7 V1745.5 H1421" stroke="#000" stroke-width="5.2" fill="none" stroke-linejoin="miter" stroke-linecap="butt"/>
<line x1="1421" y1="1623.3" x2="1435" y2="1623.3" stroke="#000" stroke-width="5.2" stroke-linecap="butt"/>
<line x1="1421" y1="1501.1" x2="1435" y2="1501.1" stroke="#000" stroke-width="5.2" stroke-linecap="butt"/>
<line x1="1421" y1="1378.9" x2="1435" y2="1378.9" stroke="#000" stroke-width="5.2" stroke-linecap="butt"/>
<line x1="1421" y1="1256.7" x2="1435" y2="1256.7" stroke="#000" stroke-width="5.2" stroke-linecap="butt"/>
<text x="0" y="0" font-size="37.2" font-weight="400" stroke="#000" stroke-width="1.6" stroke-linejoin="round" text-anchor="start" fill="#000" transform="translate(1392.36 1757.6) scale(1 1.04)">0</text>
<text x="0" y="0" font-size="37.2" font-weight="400" stroke="#000" stroke-width="1.6" stroke-linejoin="round" text-anchor="start" fill="#000" transform="translate(1392.47 1635.4) scale(1 1.04)">5</text>
<text x="0" y="0" font-size="37.2" font-weight="400" stroke="#000" stroke-width="1.6" stroke-linejoin="round" text-anchor="start" fill="#000" transform="translate(1371.68 1513.2) scale(1 1.04)">10</text>
<text x="0" y="0" font-size="37.2" font-weight="400" stroke="#000" stroke-width="1.6" stroke-linejoin="round" text-anchor="start" fill="#000" transform="translate(1371.78 1391) scale(1 1.04)">15</text>
<text x="0" y="0" font-size="37.2" font-weight="400" stroke="#000" stroke-width="1.6" stroke-linejoin="round" text-anchor="start" fill="#000" transform="translate(1371.68 1268.8) scale(1 1.04)">20</text>
<line x1="1486" y1="1800.1" x2="1980.4" y2="1800.1" stroke="#000" stroke-width="5.2" stroke-linecap="butt"/>
<line x1="1551.2" y1="1800.1" x2="1551.2" y2="1815.6" stroke="#000" stroke-width="5.2" stroke-linecap="butt"/>
<line x1="1672.7" y1="1800.1" x2="1672.7" y2="1815.6" stroke="#000" stroke-width="5.2" stroke-linecap="butt"/>
<line x1="1794.4" y1="1800.1" x2="1794.4" y2="1815.6" stroke="#000" stroke-width="5.2" stroke-linecap="butt"/>
<line x1="1916.7" y1="1800.1" x2="1916.7" y2="1815.6" stroke="#000" stroke-width="5.2" stroke-linecap="butt"/>
<line x1="1551.2" y1="1651.8" x2="1551.2" y2="1642.6" stroke="#000" stroke-width="6.4" stroke-linecap="butt"/>
<line x1="1531.2" y1="1642.6" x2="1571.2" y2="1642.6" stroke="#000" stroke-width="7.2" stroke-linecap="butt"/>
<rect x="1514.6" y="1651.5" width="73.2" height="89.3" fill="#000000" stroke="#000" stroke-width="7.4"/>
<line x1="1672.7" y1="1313.3" x2="1672.7" y2="1268" stroke="#000" stroke-width="6.4" stroke-linecap="butt"/>
<line x1="1652.7" y1="1268" x2="1692.7" y2="1268" stroke="#000" stroke-width="7.2" stroke-linecap="butt"/>
<rect x="1636.1" y="1313" width="73.2" height="427.8" fill="#ff0000" stroke="#000" stroke-width="7.4"/>
<line x1="1794.4" y1="1644.4" x2="1794.4" y2="1633" stroke="#000" stroke-width="6.4" stroke-linecap="butt"/>
<line x1="1774.4" y1="1633" x2="1814.4" y2="1633" stroke="#000" stroke-width="7.2" stroke-linecap="butt"/>
<rect x="1757.8" y="1644.1" width="73.2" height="96.7" fill="#008000" stroke="#000" stroke-width="7.4"/>
<line x1="1916.7" y1="1617.2" x2="1916.7" y2="1593.3" stroke="#000" stroke-width="6.4" stroke-linecap="butt"/>
<line x1="1896.7" y1="1593.3" x2="1936.7" y2="1593.3" stroke="#000" stroke-width="7.2" stroke-linecap="butt"/>
<rect x="1880.1" y="1616.9" width="73.2" height="123.9" fill="#0000cc" stroke="#000" stroke-width="7.4"/>
<text transform="translate(1561.7 1851.4) rotate(-45)" x="-143.69" font-size="37.5" font-weight="400" stroke="#000" stroke-width="1.6" stroke-linejoin="round" letter-spacing="3.8">Control</text>
<text transform="translate(1683.2 1851.4) rotate(-45)" x="-207.23" font-size="37.5" font-weight="400" stroke="#000" stroke-width="1.6" stroke-linejoin="round" letter-spacing="2.45">SKF 38393</text>
<text transform="translate(1804.9 1851.4) rotate(-45)" x="-219.67" font-size="37.5" font-weight="400" stroke="#000" stroke-width="1.6" stroke-linejoin="round" letter-spacing="2.4">PD 128,907</text>
<text transform="translate(1927.2 1851.4) rotate(-45)" x="-159.17" font-size="37.5" font-weight="400" stroke="#000" stroke-width="1.6" stroke-linejoin="round" letter-spacing="2.45">SKF+PD</text>
<text transform="translate(1343.2 1499) rotate(-90) scale(1 1)" font-size="44.7" font-weight="700" x="-265.42" y="0">[<tspan font-size="34" dy="-22.4">3</tspan><tspan dy="22.4">H] GABA release (AUC)</tspan></text>
<path d="M1537.8 1232.7 V1208.6 H1921 V1232.7" stroke="#000" stroke-width="7.6" fill="none" stroke-linejoin="miter" stroke-linecap="butt"/>
<line x1="1764.6" y1="1208.6" x2="1764.6" y2="1232.7" stroke="#000" stroke-width="7.6" stroke-linecap="butt"/>
<text x="0" y="0" font-size="54.5" font-weight="400" text-anchor="start" fill="#000" transform="translate(1681.59 1193.6) scale(1 1.04)">ns</text>
<text x="1646.13" y="1265.11" font-size="51" font-weight="700" letter-spacing="2.35">***</text>
<path d="M200 2272 V2759.2 H183.8" stroke="#000" stroke-width="5.2" fill="none" stroke-linejoin="miter" stroke-linecap="butt"/>
<line x1="183.8" y1="2637.4" x2="200" y2="2637.4" stroke="#000" stroke-width="5.2" stroke-linecap="butt"/>
<line x1="183.8" y1="2515.6" x2="200" y2="2515.6" stroke="#000" stroke-width="5.2" stroke-linecap="butt"/>
<line x1="183.8" y1="2393.8" x2="200" y2="2393.8" stroke="#000" stroke-width="5.2" stroke-linecap="butt"/>
<line x1="183.8" y1="2272" x2="200" y2="2272" stroke="#000" stroke-width="5.2" stroke-linecap="butt"/>
<text x="0" y="0" font-size="37.2" font-weight="400" stroke="#000" stroke-width="1.6" stroke-linejoin="round" text-anchor="start" fill="#000" transform="translate(155.96 2771.3) scale(1 1.04)">0</text>
<text x="0" y="0" font-size="37.2" font-weight="400" stroke="#000" stroke-width="1.6" stroke-linejoin="round" text-anchor="start" fill="#000" transform="translate(156.38 2649.5) scale(1 1.04)">2</text>
<text x="0" y="0" font-size="37.2" font-weight="400" stroke="#000" stroke-width="1.6" stroke-linejoin="round" text-anchor="start" fill="#000" transform="translate(155.6 2527.7) scale(1 1.04)">4</text>
<text x="0" y="0" font-size="37.2" font-weight="400" stroke="#000" stroke-width="1.6" stroke-linejoin="round" text-anchor="start" fill="#000" transform="translate(156.15 2405.9) scale(1 1.04)">6</text>
<text x="0" y="0" font-size="37.2" font-weight="400" stroke="#000" stroke-width="1.6" stroke-linejoin="round" text-anchor="start" fill="#000" transform="translate(156.13 2284.1) scale(1 1.04)">8</text>
<line x1="249.3" y1="2814.7" x2="743.7" y2="2814.7" stroke="#000" stroke-width="5.2" stroke-linecap="butt"/>
<line x1="314.3" y1="2814.7" x2="314.3" y2="2830.2" stroke="#000" stroke-width="5.2" stroke-linecap="butt"/>
<line x1="436.5" y1="2814.7" x2="436.5" y2="2830.2" stroke="#000" stroke-width="5.2" stroke-linecap="butt"/>
<line x1="558" y1="2814.7" x2="558" y2="2830.2" stroke="#000" stroke-width="5.2" stroke-linecap="butt"/>
<line x1="680" y1="2814.7" x2="680" y2="2830.2" stroke="#000" stroke-width="5.2" stroke-linecap="butt"/>
<line x1="314.3" y1="2578.2" x2="314.3" y2="2572.3" stroke="#000" stroke-width="6.4" stroke-linecap="butt"/>
<line x1="294.3" y1="2572.3" x2="334.3" y2="2572.3" stroke="#000" stroke-width="7.2" stroke-linecap="butt"/>
<rect x="277.7" y="2577.9" width="73.2" height="176.6" fill="#000000" stroke="#000" stroke-width="7.4"/>
<line x1="436.5" y1="2471" x2="436.5" y2="2451.4" stroke="#000" stroke-width="6.4" stroke-linecap="butt"/>
<line x1="416.5" y1="2451.4" x2="456.5" y2="2451.4" stroke="#000" stroke-width="7.2" stroke-linecap="butt"/>
<rect x="399.9" y="2470.7" width="73.2" height="283.8" fill="#ff0000" stroke="#000" stroke-width="7.4"/>
<line x1="558" y1="2569.8" x2="558" y2="2558.2" stroke="#000" stroke-width="6.4" stroke-linecap="butt"/>
<line x1="538" y1="2558.2" x2="578" y2="2558.2" stroke="#000" stroke-width="7.2" stroke-linecap="butt"/>
<rect x="521.4" y="2569.5" width="73.2" height="185" fill="#008000" stroke="#000" stroke-width="7.4"/>
<line x1="680" y1="2398.5" x2="680" y2="2374.7" stroke="#000" stroke-width="6.4" stroke-linecap="butt"/>
<line x1="660" y1="2374.7" x2="700" y2="2374.7" stroke="#000" stroke-width="7.2" stroke-linecap="butt"/>
<rect x="643.4" y="2398.2" width="73.2" height="356.3" fill="#0000cc" stroke="#000" stroke-width="7.4"/>
<text transform="translate(324.8 2866) rotate(-45)" x="-143.69" font-size="37.5" font-weight="400" stroke="#000" stroke-width="1.6" stroke-linejoin="round" letter-spacing="3.8">Control</text>
<text transform="translate(447 2866) rotate(-45)" x="-207.23" font-size="37.5" font-weight="400" stroke="#000" stroke-width="1.6" stroke-linejoin="round" letter-spacing="2.45">SKF 38393</text>
<text transform="translate(568.5 2866) rotate(-45)" x="-219.67" font-size="37.5" font-weight="400" stroke="#000" stroke-width="1.6" stroke-linejoin="round" letter-spacing="2.4">PD 128,907</text>
<text transform="translate(690.5 2866) rotate(-45)" x="-159.17" font-size="37.5" font-weight="400" stroke="#000" stroke-width="1.6" stroke-linejoin="round" letter-spacing="2.45">SKF+PD</text>
<text transform="translate(131.9 2513) rotate(-90) scale(1 1)" font-size="44.7" font-weight="700" x="-265.42" y="0">[<tspan font-size="34" dy="-22.4">3</tspan><tspan dy="22.4">H] GABA release (AUC)</tspan></text>
<path d="M452 2311.7 V2288.2 H686 V2311.7" stroke="#000" stroke-width="7.6" fill="none" stroke-linejoin="miter" stroke-linecap="butt"/>
<path d="M312.4 2363.6 V2339.8 H547.5 V2363.6" stroke="#000" stroke-width="7.6" fill="none" stroke-linejoin="miter" stroke-linecap="butt"/>
<text x="0" y="0" font-size="45.5" font-weight="700" text-anchor="start" fill="#000" transform="translate(564.83 2268) scale(1 1.04)">#</text>
<text x="0" y="0" font-size="54" font-weight="400" text-anchor="start" fill="#000" transform="translate(356.87 2316.9) scale(1 1.04)">ns</text>
<text x="404.23" y="2448.91" font-size="51" font-weight="700" letter-spacing="2.35">**</text>
<text x="644.83" y="2369.81" font-size="51" font-weight="700" letter-spacing="2.35">***</text>
<path d="M1415.6 2272.08 V2760.4 H1401.7" stroke="#000" stroke-width="5.2" fill="none" stroke-linejoin="miter" stroke-linecap="butt"/>
<line x1="1401.7" y1="2638.32" x2="1415.6" y2="2638.32" stroke="#000" stroke-width="5.2" stroke-linecap="butt"/>
<line x1="1401.7" y1="2516.24" x2="1415.6" y2="2516.24" stroke="#000" stroke-width="5.2" stroke-linecap="butt"/>
<line x1="1401.7" y1="2394.16" x2="1415.6" y2="2394.16" stroke="#000" stroke-width="5.2" stroke-linecap="butt"/>
<line x1="1401.7" y1="2272.08" x2="1415.6" y2="2272.08" stroke="#000" stroke-width="5.2" stroke-linecap="butt"/>
<text x="0" y="0" font-size="37.2" font-weight="400" stroke="#000" stroke-width="1.6" stroke-linejoin="round" text-anchor="start" fill="#000" transform="translate(1372.76 2772.5) scale(1 1.04)">0</text>
<text x="0" y="0" font-size="37.2" font-weight="400" stroke="#000" stroke-width="1.6" stroke-linejoin="round" text-anchor="start" fill="#000" transform="translate(1373.18 2650.42) scale(1 1.04)">2</text>
<text x="0" y="0" font-size="37.2" font-weight="400" stroke="#000" stroke-width="1.6" stroke-linejoin="round" text-anchor="start" fill="#000" transform="translate(1372.4 2528.34) scale(1 1.04)">4</text>
<text x="0" y="0" font-size="37.2" font-weight="400" stroke="#000" stroke-width="1.6" stroke-linejoin="round" text-anchor="start" fill="#000" transform="translate(1372.95 2406.26) scale(1 1.04)">6</text>
<text x="0" y="0" font-size="37.2" font-weight="400" stroke="#000" stroke-width="1.6" stroke-linejoin="round" text-anchor="start" fill="#000" transform="translate(1372.93 2284.18) scale(1 1.04)">8</text>
<line x1="1467.1" y1="2814.7" x2="1959.7" y2="2814.7" stroke="#000" stroke-width="5.2" stroke-linecap="butt"/>
<line x1="1530.4" y1="2814.7" x2="1530.4" y2="2830.2" stroke="#000" stroke-width="5.2" stroke-linecap="butt"/>
<line x1="1652.6" y1="2814.7" x2="1652.6" y2="2830.2" stroke="#000" stroke-width="5.2" stroke-linecap="butt"/>
<line x1="1774.9" y1="2814.7" x2="1774.9" y2="2830.2" stroke="#000" stroke-width="5.2" stroke-linecap="butt"/>
<line x1="1896.9" y1="2814.7" x2="1896.9" y2="2830.2" stroke="#000" stroke-width="5.2" stroke-linecap="butt"/>
<line x1="1530.4" y1="2523.4" x2="1530.4" y2="2503.3" stroke="#000" stroke-width="6.4" stroke-linecap="butt"/>
<line x1="1510.4" y1="2503.3" x2="1550.4" y2="2503.3" stroke="#000" stroke-width="7.2" stroke-linecap="butt"/>
<rect x="1493.8" y="2523.1" width="73.2" height="232.6" fill="#000000" stroke="#000" stroke-width="7.4"/>
<line x1="1652.6" y1="2439" x2="1652.6" y2="2413.5" stroke="#000" stroke-width="6.4" stroke-linecap="butt"/>
<line x1="1632.6" y1="2413.5" x2="1672.6" y2="2413.5" stroke="#000" stroke-width="7.2" stroke-linecap="butt"/>
<rect x="1616" y="2438.7" width="73.2" height="317" fill="#ff0000" stroke="#000" stroke-width="7.4"/>
<line x1="1774.9" y1="2515.2" x2="1774.9" y2="2495.9" stroke="#000" stroke-width="6.4" stroke-linecap="butt"/>
<line x1="1754.9" y1="2495.9" x2="1794.9" y2="2495.9" stroke="#000" stroke-width="7.2" stroke-linecap="butt"/>
<rect x="1738.3" y="2514.9" width="73.2" height="240.8" fill="#008000" stroke="#000" stroke-width="7.4"/>
<line x1="1896.9" y1="2362.2" x2="1896.9" y2="2336.9" stroke="#000" stroke-width="6.4" stroke-linecap="butt"/>
<line x1="1876.9" y1="2336.9" x2="1916.9" y2="2336.9" stroke="#000" stroke-width="7.2" stroke-linecap="butt"/>
<rect x="1860.3" y="2361.9" width="73.2" height="393.8" fill="#0000cc" stroke="#000" stroke-width="7.4"/>
<text transform="translate(1540.9 2866) rotate(-45)" x="-143.69" font-size="37.5" font-weight="400" stroke="#000" stroke-width="1.6" stroke-linejoin="round" letter-spacing="3.8">Control</text>
<text transform="translate(1663.1 2866) rotate(-45)" x="-207.23" font-size="37.5" font-weight="400" stroke="#000" stroke-width="1.6" stroke-linejoin="round" letter-spacing="2.45">SKF 38393</text>
<text transform="translate(1785.4 2866) rotate(-45)" x="-219.67" font-size="37.5" font-weight="400" stroke="#000" stroke-width="1.6" stroke-linejoin="round" letter-spacing="2.4">PD 128,907</text>
<text transform="translate(1907.4 2866) rotate(-45)" x="-159.17" font-size="37.5" font-weight="400" stroke="#000" stroke-width="1.6" stroke-linejoin="round" letter-spacing="2.45">SKF+PD</text>
<text transform="translate(1348.1 2513) rotate(-90) scale(1 1)" font-size="44.7" font-weight="700" x="-265.42" y="0">[<tspan font-size="34" dy="-22.4">3</tspan><tspan dy="22.4">H] GABA release (AUC)</tspan></text>
<path d="M1645 2273.9 V2249.7 H1896 V2273.9" stroke="#000" stroke-width="7.6" fill="none" stroke-linejoin="miter" stroke-linecap="butt"/>
<path d="M1500.6 2363 V2340 H1753.3 V2363" stroke="#000" stroke-width="7.6" fill="none" stroke-linejoin="miter" stroke-linecap="butt"/>
<text x="0" y="0" font-size="45.5" font-weight="700" text-anchor="start" fill="#000" transform="translate(1766.03 2231) scale(1 1.04)">#</text>
<text x="0" y="0" font-size="54" font-weight="400" text-anchor="start" fill="#000" transform="translate(1588.57 2316.5) scale(1 1.04)">ns</text>
<text x="1638.63" y="2413.61" font-size="51" font-weight="700" letter-spacing="2.35">*</text>
<text x="1859.03" y="2313.51" font-size="51" font-weight="700" letter-spacing="2.35">***</text>
</g>
</svg>
</body></html>
